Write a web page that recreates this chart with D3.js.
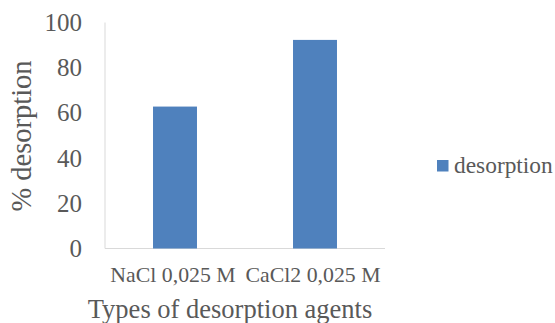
<!DOCTYPE html>
<html><head><meta charset="utf-8">
<script src="https://cdn.jsdelivr.net/npm/d3@7"></script>
<style>body{margin:0;background:#fff}</style>
</head><body>
<script>
const categories = ["NaCl 0,025 M", "CaCl2 0,025 M"];
const values = [62.8, 92.3];
const yTicks = [0, 20, 40, 60, 80, 100];
const seriesName = "desorption";

const W = 555, H = 323;
const svg = d3.select("body").append("svg").attr("width", W).attr("height", H);
const font = "\"Liberation Serif\", \"Times New Roman\", serif";
const x = d3.scaleBand().domain(categories).range([105, 385]).paddingInner(0.686).paddingOuter(0.343);
const y = d3.scaleLinear().domain([0, 100]).range([248.5, 22.5]);

// axis lines
svg.append("line").attr("x1", 105).attr("x2", 105).attr("y1", y(100)).attr("y2", y(0)).attr("stroke", "#D9D9D9");
svg.append("line").attr("x1", 105).attr("x2", 385).attr("y1", y(0)).attr("y2", y(0)).attr("stroke", "#D9D9D9");

svg.selectAll("rect.bar").data(values).enter().append("rect")
  .attr("x", (d, i) => x(categories[i]))
  .attr("width", x.bandwidth())
  .attr("y", d => y(d))
  .attr("height", d => y(0) - y(d))
  .attr("fill", "#4F81BD");

svg.selectAll("text.yt").data(yTicks).enter().append("text")
  .attr("x", 82).attr("y", d => y(d)).attr("dy", "0.34em")
  .attr("text-anchor", "end").style("font-family", font).attr("font-size", 25).attr("fill", "#595959")
  .text(d => d);

svg.selectAll("text.xt").data(categories).enter().append("text")
  .attr("x", d => x(d) + x.bandwidth() / 2 - 2).attr("y", 282)
  .attr("text-anchor", "middle").style("font-family", font).attr("font-size", 21.8).attr("fill", "#595959")
  .text(d => d);

svg.append("text").attr("x", 230).attr("y", 318).attr("text-anchor", "middle")
  .style("font-family", font).attr("font-size", 26.5).attr("fill", "#595959").text("Types of desorption agents");

svg.append("text").attr("transform", "translate(31,136) rotate(-90)").attr("text-anchor", "middle")
  .style("font-family", font).attr("font-size", 28.5).attr("fill", "#595959").text("% desorption");

svg.append("rect").attr("x", 437).attr("y", 160).attr("width", 11.5).attr("height", 11.5).attr("fill", "#4F81BD");
svg.append("text").attr("x", 454).attr("y", 172.5).style("font-family", font).attr("font-size", 23.4).attr("fill", "#595959").text(seriesName);
</script>
</body></html>
